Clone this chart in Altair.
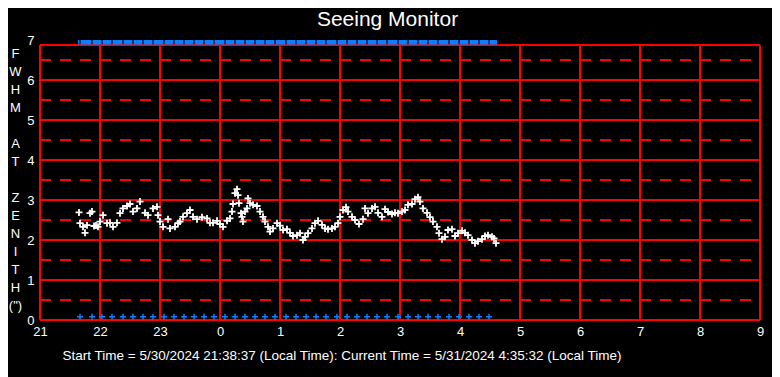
import altair as alt
import pandas as pd

# ---- data (minutes after 21:00 local time) ----
hour_labels = ["21", "22", "23", "0", "1", "2", "3", "4", "5", "6", "7", "8", "9"]
hour_ticks = [0, 60, 120, 180, 240, 300, 360, 420, 480, 540, 600, 660, 720]
y_ticks = [0, 1, 2, 3, 4, 5, 6, 7]
solid_levels = [0, 1, 2, 3, 4, 5, 6, 6.875]
dashed_levels = [0.5, 1.5, 2.5, 3.5, 4.5, 5.5, 6.5]

minutes = [39, 40, 43, 45, 47, 50, 52, 54, 56, 58, 60, 63, 67, 70, 73, 77, 80, 83, 87, 90,
           93, 97, 100, 105, 108, 113, 117, 118, 120, 123, 128, 130, 135, 138, 140, 143, 147,
           150, 153, 157, 162, 167, 170, 173, 177, 180, 183, 187, 190, 192, 193, 195, 197,
           198, 199, 201, 202, 203, 205, 207, 208, 210, 213, 217, 220, 223, 225, 228, 230,
           233, 237, 240, 243, 247, 250, 253, 257, 260, 263, 265, 268, 272, 275, 278, 282,
           285, 288, 292, 295, 298, 300, 303, 306, 308, 312, 315, 319, 323, 325, 328, 332,
           335, 338, 342, 345, 348, 352, 355, 358, 362, 365, 368, 372, 375, 378, 380, 383,
           387, 390, 393, 397, 399, 402, 405, 408, 412, 415, 418, 422, 425, 428, 432, 435,
           438, 442, 445, 448, 452, 454, 456]
fwhm = [2.69, 2.42, 2.33, 2.18, 2.37, 2.67, 2.71, 2.35, 2.36, 2.33, 2.46, 2.62, 2.42, 2.43,
        2.33, 2.43, 2.67, 2.79, 2.85, 2.90, 2.71, 2.79, 2.96, 2.68, 2.62, 2.79, 2.83, 2.62,
        2.46, 2.33, 2.52, 2.29, 2.33, 2.42, 2.46, 2.58, 2.67, 2.75, 2.58, 2.52, 2.57, 2.54,
        2.43, 2.43, 2.48, 2.40, 2.33, 2.48, 2.54, 2.71, 2.90, 3.17, 3.27, 3.12, 2.92, 2.67,
        2.58, 2.46, 2.71, 2.79, 3.04, 2.92, 2.88, 2.85, 2.71, 2.58, 2.46, 2.33, 2.21, 2.29,
        2.42, 2.36, 2.25, 2.27, 2.18, 2.10, 2.12, 2.17, 2.00, 2.08, 2.17, 2.29, 2.42, 2.48,
        2.38, 2.29, 2.27, 2.29, 2.33, 2.42, 2.58, 2.75, 2.82, 2.71, 2.58, 2.50, 2.40, 2.52,
        2.79, 2.67, 2.79, 2.83, 2.68, 2.58, 2.77, 2.70, 2.65, 2.68, 2.67, 2.71, 2.75, 2.88,
        2.90, 3.02, 3.07, 2.96, 2.79, 2.68, 2.57, 2.46, 2.33, 2.17, 2.02, 2.08, 2.25, 2.27,
        2.10, 2.17, 2.23, 2.18, 2.12, 2.00, 1.92, 1.97, 2.02, 2.10, 2.12, 2.08, 2.04, 1.92]

status_minutes = [40, 52, 62, 72, 83, 93, 103, 113, 124, 134, 144, 154, 164, 174, 185, 195,
                  205, 215, 225, 235, 246, 256, 266, 276, 286, 297, 307, 317, 327, 337, 347,
                  358, 368, 378, 388, 398, 409, 419, 429, 439, 449]
block_start_first = 38
block_end_last = 457

title_text = "Seeing Monitor"
BLANK = "\u200b"
y_title = ["F", "W", "H", "M", BLANK, "A", "T", BLANK, "Z", "E", "N", "I", "T", "H", "(\")"]
footer = ("Start Time = 5/30/2024 21:38:37 (Local Time):  "
          "Current Time = 5/31/2024 4:35:32 (Local Time)")

FONT = "Liberation Sans"
RED = "#ff0000"
BLUE = "#0a7fff"

label_expr = "[" + ",".join("'" + h + "'" for h in hour_labels) + "][round(datum.value/60)]"

xs = alt.Scale(domain=[0, 720], nice=False, zero=False)
ys = alt.Scale(domain=[0, 7], nice=False, zero=False)

xaxis = alt.Axis(values=hour_ticks, labelExpr=label_expr, domain=False, ticks=False, grid=False,
                 labelFont=FONT, labelFontSize=13, labelColor="white", labelPadding=5,
                 labelFlush=False, labelOverlap=False,
                 title=footer, titleFont=FONT, titleFontSize=13.5, titleFontWeight="normal",
                 titleColor="white", titleAnchor="start", titleAlign="left",
                 titleX=22, titleY=35, titleBaseline="middle")
yaxis = alt.Axis(values=y_ticks, domain=False, ticks=False, grid=False,
                 labelFont=FONT, labelFontSize=13, labelColor="white", labelPadding=6,
                 labelFlush=False, labelOverlap=False,
                 title=y_title, titleFont=FONT, titleFontSize=13, titleFontWeight="normal",
                 titleColor="white", titleAngle=0, titleAlign="center", titleBaseline="top",
                 titleX=-25, titleY=7, titleLineHeight=18)

df = pd.DataFrame({"m": minutes, "v": fwhm})
st = pd.DataFrame({"m": status_minutes, "v": [0.08] * len(status_minutes)})
starts = [block_start_first] + [t + 0.6 for t in status_minutes]
ends = [t - 0.6 for t in status_minutes] + [block_end_last]
blocks = pd.DataFrame({"m": starts, "m2": ends})

vrules = alt.Chart(pd.DataFrame({"m": hour_ticks})).mark_rule(color=RED, strokeWidth=2).encode(
    x=alt.X("m:Q", scale=xs, axis=xaxis),
    y=alt.YDatum(0, scale=ys, axis=yaxis),
    y2=alt.Y2Datum(6.875),
)
hsolid = alt.Chart(pd.DataFrame({"v": solid_levels})).mark_rule(color=RED, strokeWidth=2).encode(
    y=alt.Y("v:Q", scale=ys, axis=yaxis),
    x=alt.XDatum(0, scale=xs, axis=xaxis),
    x2=alt.X2Datum(720),
)
hdash = alt.Chart(pd.DataFrame({"v": dashed_levels})).mark_rule(
    color=RED, strokeWidth=2, strokeDash=[11, 9]).encode(
    y=alt.Y("v:Q", scale=ys, axis=yaxis),
    x=alt.XDatum(0, scale=xs, axis=xaxis),
    x2=alt.X2Datum(720),
)
plus = "M-1,0H1M0,-1V1"
points = alt.Chart(df).mark_point(shape=plus, size=49, filled=False, color="white",
                                  strokeWidth=1.8, opacity=1).encode(
    x=alt.X("m:Q", scale=xs, axis=xaxis),
    y=alt.Y("v:Q", scale=ys, axis=yaxis),
)
status = alt.Chart(st).mark_point(shape=plus, size=36, filled=False, color=BLUE,
                                  strokeWidth=1.5, opacity=1).encode(
    x=alt.X("m:Q", scale=xs, axis=xaxis),
    y=alt.Y("v:Q", scale=ys, axis=yaxis),
)
topbar = alt.Chart(blocks).mark_rect(color=BLUE).encode(
    x=alt.X("m:Q", scale=xs, axis=xaxis),
    x2="m2:Q",
    y=alt.YDatum(6.885, scale=ys, axis=yaxis),
    y2=alt.Y2Datum(7.0),
)
title = alt.Chart(pd.DataFrame({"t": [title_text]})).mark_text(
    font=FONT, fontSize=21, color="white", align="center", baseline="middle"
).encode(text="t:N", x=alt.value(347.5), y=alt.value(-20))

chart = alt.layer(vrules, hsolid, hdash, topbar, status, points, title).properties(
    width=720, height=280,
    padding={"left": 32, "top": 32, "right": 12, "bottom": 57},
    autosize=alt.AutoSizeParams(type="none"),
    background="black",
).configure_view(stroke=None)

chart.save("out.html", embed_options={"renderer": "svg", "actions": False})
